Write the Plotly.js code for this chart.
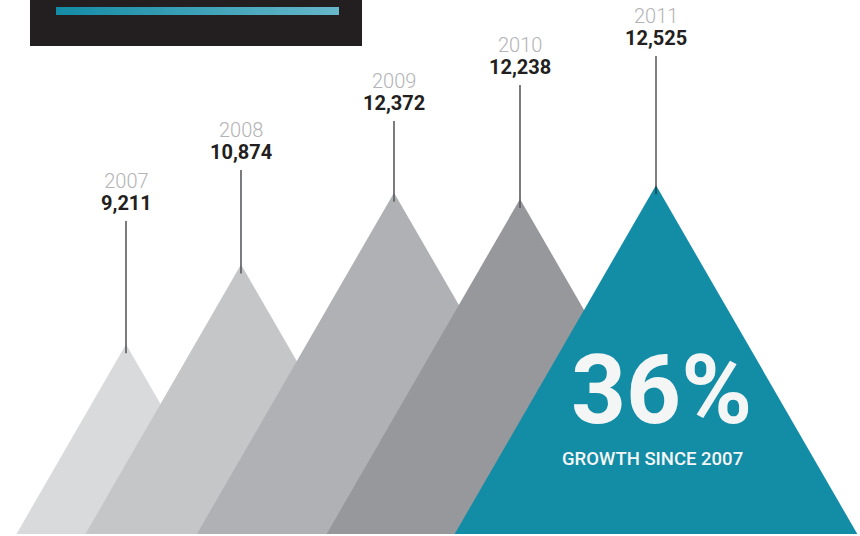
<!DOCTYPE html>
<html>
<head>
<meta charset="utf-8">
<script src="https://cdn.plot.ly/plotly-3.0.1.min.js"></script>
<style>html,body{margin:0;padding:0;background:#fff;}#chart{width:860px;height:536px;}</style>
</head>
<body>
<div id="chart"></div>
<script>
// ---- data ----
const years = ['2007', '2008', '2009', '2010', '2011'];
const values = [9211, 10874, 12372, 12238, 12525];
const valueLabels = ['9,211', '10,874', '12,372', '12,238', '12,525'];
const headline = '36%';
const subline = 'GROWTH SINCE 2007';

// ---- styling / layout constants ----
const colors = ['#d9dadc', '#c5c6c8', '#b0b1b4', '#97989c', '#138ca6'];
const peakX = [126, 241, 394, 520, 656];       // horizontal centres (px)
const labelTop = [172, 121, 72, 36, 7];         // label block tops (px)
const W = 860, H = 536;
const yRange = [5216, 16387];
const baseValue = 5258;
const unitsPerPx = (yRange[1] - yRange[0]) / H;
const pxToY = p => yRange[1] - p * unitsPerPx;
const pxToPaper = p => 1 - p / H;

const traces = [];
values.forEach((v, i) => {
  const hPx = (v - baseValue) / unitsPerPx;
  const half = hPx / Math.sqrt(3);
  const cx = peakX[i];
  traces.push({
    type: 'scatter', mode: 'lines', fill: 'toself',
    x: [cx - half, cx, cx + half, cx - half],
    y: [baseValue, v, baseValue, baseValue],
    fillcolor: colors[i], line: {width: 0, color: colors[i]},
    hoverinfo: 'skip', showlegend: false
  });
});

// gradient bar in header box
traces.push({
  type: 'scatter', mode: 'lines', fill: 'toself',
  x: [56, 339, 339, 56, 56],
  y: [pxToY(7), pxToY(7), pxToY(15), pxToY(15), pxToY(7)],
  fillgradient: {type: 'horizontal', colorscale: [[0, '#148ba5'], [1, '#66b7c9']]},
  line: {width: 0, color: '#148ba5'},
  hoverinfo: 'skip', showlegend: false
});

const shapes = [{
  type: 'rect', xref: 'x', yref: 'paper',
  x0: 30, x1: 362, y0: pxToPaper(46), y1: 1,
  fillcolor: '#231f20', line: {width: 0}, layer: 'below'
}];

const annotations = [];
values.forEach((v, i) => {
  shapes.push({
    type: 'line', xref: 'x', yref: 'y',
    x0: peakX[i], x1: peakX[i],
    y0: pxToY(labelTop[i] + 49), y1: v - 9 * unitsPerPx,
    line: {color: i === 4 ? '#2b2b2b' : '#5a5b5d', width: i === 4 ? 1.2 : 1.6}
  });
  annotations.push({
    xref: 'x', yref: 'paper', x: peakX[i], y: pxToPaper(labelTop[i] - 3),
    text: '<span style="font-size:20px;font-weight:300;fill:#b3b3b5">' + years[i] +
          '</span><br><span style="font-size:20px;font-weight:bold">' + valueLabels[i] + '</span>',
    showarrow: false, xanchor: 'center', yanchor: 'top', align: 'center',
    borderpad: 0, borderwidth: 0,
    font: {family: 'Roboto', size: 17, color: '#231f20'}
  });
});

annotations.push({
  xref: 'x', yref: 'paper', x: 661, y: pxToPaper(334),
  text: headline, showarrow: false, xanchor: 'center', yanchor: 'top',
  borderpad: 0, borderwidth: 0,
  font: {family: 'Roboto', size: 96, color: '#f4f6f6', weight: 'bold'}
});
annotations.push({
  xref: 'x', yref: 'paper', x: 652, y: pxToPaper(448),
  text: subline, showarrow: false, xanchor: 'center', yanchor: 'top',
  borderpad: 0, borderwidth: 0,
  font: {family: 'Roboto', size: 18.5, color: '#f4f6f6', weight: 500}
});

const layout = {
  width: W, height: H,
  margin: {l: 0, r: 0, t: 0, b: 0, pad: 0},
  paper_bgcolor: '#ffffff', plot_bgcolor: '#ffffff',
  xaxis: {range: [0, W], visible: false, fixedrange: true},
  yaxis: {range: yRange, visible: false, fixedrange: true},
  shapes: shapes, annotations: annotations,
  showlegend: false, hovermode: false
};

Plotly.newPlot('chart', traces, layout, {displayModeBar: false, staticPlot: true});
</script>
</body>
</html>
